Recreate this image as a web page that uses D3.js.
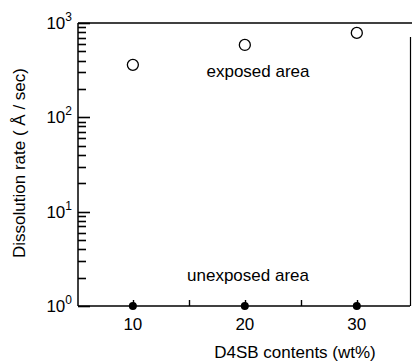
<!DOCTYPE html>
<html><head><meta charset="utf-8">
<script src="https://cdn.jsdelivr.net/npm/d3@7"></script>
<style>body{margin:0;background:#fff}svg{display:block}text{font-family:"Liberation Sans",Arial,sans-serif;fill:#000}</style>
</head><body>
<script>
const contents = [10, 20, 30];
const exposedRate = [360, 585, 785];
const unexposedRate = [1, 1, 1];
const xTickValues = [10, 20, 30];
const xMinorTicks = [15, 25];
const yDecades = [1, 10, 100, 1000];
const yExponents = ["0", "1", "2", "3"];
const labels = {exposed: "exposed area", unexposed: "unexposed area", x: "D4SB contents (wt%)", y: "Dissolution rate ( Å / sec)"};

const W = 412, H = 362;
const svg = d3.select("body").append("svg").attr("width", W).attr("height", H);
const x = d3.scaleLinear().domain([5.1, 34.75]).range([78, 410]);
const y = d3.scaleLog().domain([1, 1000]).range([306, 23]);

const g = svg.append("g").attr("stroke", "#000");
// frame
g.append("line").attr("x1", 78).attr("x2", 412).attr("y1", y(1000)).attr("y2", y(1000)).attr("stroke-width", 1.5);
g.append("line").attr("x1", 78).attr("x2", 410).attr("y1", y(1)).attr("y2", y(1)).attr("stroke-width", 1.5);
g.append("line").attr("x1", 78).attr("x2", 78).attr("y1", y(1000)).attr("y2", y(1)).attr("stroke-width", 1.5);
g.append("line").attr("x1", 410.5).attr("x2", 410.5).attr("y1", 37).attr("y2", y(1)).attr("stroke-width", 1.2);

// left axis ticks (inside), from the log scale's ticks
const yTicks = y.ticks();
const tg = svg.append("g");
yTicks.forEach(d => {
  const isMajor = yDecades.some(v => Math.abs(v - d) < 1e-9);
  const yy = Math.round(y(d)) + 0.5;
  tg.append("path").attr("d", `M78,${yy}H${isMajor ? 90 : 86}`).attr("stroke", "#000").attr("stroke-width", 1.6).attr("fill", "none");
});

// y tick labels with superscripts
yDecades.forEach((d, i) => {
  const t = svg.append("text").attr("x", 72).attr("y", y(d) + 6).attr("text-anchor", "end").attr("font-size", 17);
  t.append("tspan").text("10");
  t.append("tspan").attr("dy", -8).attr("font-size", 12).text(yExponents[i]);
});

// bottom axis ticks (inside)
xTickValues.concat(xMinorTicks).forEach(d => {
  const xx = Math.round(x(d)) + 0.5;
  tg.append("path").attr("d", `M${xx},${y(1)}V${y(1) - 6}`).attr("stroke", "#000").attr("stroke-width", 1.4).attr("fill", "none");
});
xTickValues.forEach(v => {
  svg.append("text").attr("x", x(v)).attr("y", 330).attr("text-anchor", "middle").attr("font-size", 17).text(v);
});

// data
svg.selectAll(".exp").data(contents).enter().append("circle")
  .attr("cx", d => x(d)).attr("cy", (d, i) => y(exposedRate[i])).attr("r", 5.5)
  .attr("fill", "#fff").attr("stroke", "#000").attr("stroke-width", 1.3);
svg.selectAll(".unexp").data(contents).enter().append("circle")
  .attr("cx", d => x(d)).attr("cy", (d, i) => y(unexposedRate[i])).attr("r", 4)
  .attr("fill", "#000");

svg.append("text").attr("x", 258).attr("y", 77).attr("text-anchor", "middle").attr("font-size", 17).text(labels.exposed);
svg.append("text").attr("x", 248).attr("y", 281).attr("text-anchor", "middle").attr("font-size", 17).text(labels.unexposed);
svg.append("text").attr("x", 295).attr("y", 358).attr("text-anchor", "middle").attr("font-size", 17).text(labels.x);
svg.append("text").attr("transform", "translate(25,163) rotate(-90)").attr("text-anchor", "middle").attr("font-size", 17).text(labels.y);
</script>
</body></html>
